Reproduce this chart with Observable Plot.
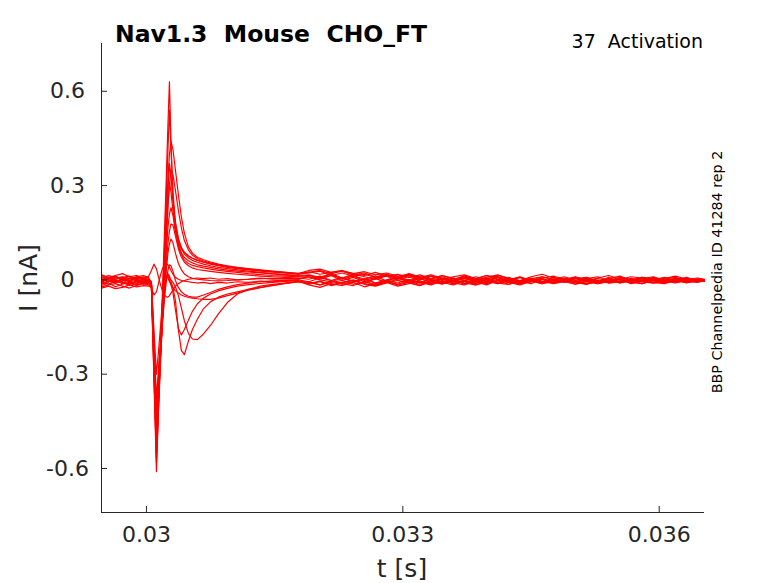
<!DOCTYPE html>
<html><head><meta charset="utf-8">
<script src="https://cdn.jsdelivr.net/npm/d3@7"></script>
<script src="https://cdn.jsdelivr.net/npm/@observablehq/plot@0.6"></script>
<style>body{margin:0;background:#fff}#chart{position:relative;width:778px;height:583px}</style>
</head><body><div id="chart"></div>
<script>
// sample times (s): pre-step, transient, tail
const timeS = [
  0.029474, 0.029556, 0.029637, 0.029719, 0.029801, 0.029883, 0.029965, 0.030023,
  0.030058, 0.030088, 0.030117, 0.030140, 0.030164, 0.030187, 0.030211, 0.030234, 0.030251, 0.030269,
  0.030287, 0.030310, 0.030339, 0.030374, 0.030409, 0.030444, 0.030491, 0.030538, 0.030596, 0.030667,
  0.030749, 0.030842, 0.030947, 0.031064, 0.031193, 0.031333, 0.031474, 0.031626, 0.031778,
  0.03190, 0.03203, 0.03216, 0.03229, 0.03242, 0.03255, 0.03268, 0.03281, 0.03294, 0.03307,
  0.03320, 0.03333, 0.03346, 0.03359, 0.03372, 0.03385, 0.03398, 0.03411, 0.03424, 0.03437,
  0.03450, 0.03463, 0.03476, 0.03489, 0.03502, 0.03515, 0.03528, 0.03541, 0.03554, 0.03567,
  0.03580, 0.03593, 0.03606, 0.03619, 0.03632, 0.03645, 0.03653
];
// current per sweep, pA
const sweep01 = [-8, 4, -2, -12, 6, -4, 2, -6,
  -20, -320, -610, -420, -230, -40, 150, 340, 490, 630, 440, 260, 165, 118, 98, 86, 76, 69, 63, 57, 52, 47, 42, 38, 34, 30, 27, 24, 21,
  24, 30, 20, 28, 16, 22, 10, 18, 8, 16, 4, 12, 0, 10, 16, 4, -4, 10, 2, -8, 4, 10, -2, -6, 8, 0, -8, 4, 12, -2, -6, 8, 0, -8, 4, -2, -4];
const sweep02 = [10, 2, 12, 0, -6, 8, 4, 0,
  -15, -300, -580, -410, -240, -65, 105, 280, 410, 540, 420, 280, 185, 130, 103, 88, 77, 69, 62, 56, 50, 45, 40, 36, 32, 28, 25, 22, 18,
  26, 18, 24, 30, 20, 14, 24, 12, 18, 8, 16, 4, 14, 2, 12, 0, 8, 16, 4, -4, 6, -6, 2, 10, -2, 6, -6, 2, -8, 0, 8, 2, -6, 0, 8, -4, 0];
const sweep03 = [-18, -10, -22, -14, -8, -16, -10, -12,
  -10, -270, -550, -390, -230, -75, 80, 220, 320, 400, 440, 415, 350, 270, 200, 148, 105, 85, 72, 64, 57, 50, 45, 40, 36, 32, 28, 24, 20,
  30, 34, 24, 28, 20, 26, 16, 22, 12, 18, 8, 16, 6, 0, 12, 4, 14, 8, 0, 10, -2, 6, 12, 2, -6, 4, 10, -2, 4, -6, 4, 10, -2, 4, -4, 2, 0];
const sweep04 = [4, -6, 6, 10, -2, 2, -8, -4,
  -25, -300, -570, -420, -270, -125, 25, 170, 280, 370, 330, 250, 180, 130, 100, 82, 70, 62, 56, 50, 45, 40, 36, 32, 28, 24, 20, 17, 14,
  16, 8, 20, 6, 14, 2, 12, -4, 8, 0, -8, 4, 10, -2, 6, -6, 4, -12, 0, 8, -6, 2, -10, 0, 4, -6, -12, -4, 4, -8, 0, 4, -6, 0, -8, -4, 0];
const sweep05 = [-2, 8, 0, -6, -14, -6, 0, 2,
  -5, -260, -520, -380, -240, -110, 20, 140, 230, 300, 350, 335, 285, 220, 165, 125, 95, 78, 68, 60, 54, 48, 42, 38, 34, 30, 26, 22, 18,
  22, 28, 14, 22, 12, 18, 8, 16, 4, 14, 0, 12, 4, -4, 10, 2, 14, 2, -6, 8, -2, 10, 2, -4, 8, -6, 4, -2, 8, 2, -6, 0, 8, -2, -6, 4, 0];
const sweep06 = [14, 6, 2, 8, 12, 4, 10, 6,
  -15, -270, -530, -390, -250, -115, 15, 140, 235, 310, 280, 220, 160, 112, 86, 71, 61, 54, 48, 44, 40, 35, 31, 28, 25, 22, 19, 16, 12,
  14, 6, 18, 2, 12, -2, 8, 16, 4, -4, 10, 0, -8, 6, -2, -10, 4, 10, -4, -8, 2, -10, -2, 6, -8, 4, -2, -10, -6, 4, -2, -8, 4, 8, -4, -6, 0];
const sweep07 = [-12, -4, -8, 2, -4, -10, -2, -8,
  -10, -250, -500, -370, -240, -120, -5, 95, 165, 210, 230, 205, 155, 108, 80, 63, 52, 46, 42, 38, 34, 30, 27, 24, 20, 17, 14, 12, 10,
  10, 2, 14, -2, 8, -6, 4, -8, 2, 10, -4, -12, 4, -6, 8, -2, -12, -2, 8, -8, 2, -4, -12, -6, 4, 8, -4, -8, 4, -10, -2, 4, -8, -2, 4, -6, 0];
const sweep08 = [-26, -20, -28, -24, -16, -22, -18, -20,
  -20, -240, -480, -360, -240, -130, -30, 60, 115, 155, 178, 175, 140, 98, 72, 56, 45, 38, 33, 30, 27, 24, 21, 18, 15, 12, 10, 8, 6,
  2, 12, -2, 8, -6, 4, -10, 0, 10, -6, 6, -10, 2, -4, -12, 4, -4, 8, -8, -4, 4, -8, 8, -2, -10, 2, -6, 8, -8, -2, 4, -8, -2, 4, -4, -6, 0];
const sweep09 = [6, 14, 8, 0, 4, 10, 14, 8,
  -10, -230, -460, -350, -240, -135, -45, 35, 85, 115, 130, 118, 85, 52, 32, 19, 10, 5, 2, 0, -2, -3, -2, 0, 2, 4, 5, 5, 4,
  10, 0, -6, 6, -4, -10, 4, 12, -2, -8, 6, -2, -10, -6, 4, -2, -8, 8, -2, -12, -6, 4, -8, -2, 8, -2, -8, 4, -8, -2, 8, 0, -10, -2, 4, -6, 0];
const sweep10 = [-6, -14, -4, -8, -18, -12, -6, -10,
  -15, -210, -430, -330, -230, -140, -60, 0, 30, 48, 45, 28, -2, -24, -38, -46, -52, -55, -55, -48, -40, -30, -22, -15, -10, -6, -3, -1, 0,
  -6, 6, -2, -14, -6, 2, -10, -2, 8, -6, -14, -2, 4, -10, -2, -6, 4, -10, -14, -2, -6, 4, -10, -2, -6, -14, -6, 0, -10, 4, -2, -10, -6, 0, -10, -2, -4];
const sweep11 = [2, -4, -10, -2, 4, -2, -8, -2,
  -20, -210, -420, -320, -220, -120, -35, 10, 20, 12, -5, -25, -65, -160, -225, -238, -195, -158, -125, -92, -70, -55, -45, -38, -30, -24, -17, -11, -6,
  -12, -4, -16, -8, 0, -12, -18, -6, -14, -2, -10, 2, -8, -16, -4, -12, 2, -8, 6, -4, -12, 2, -8, -4, 6, -4, -12, -4, 2, -8, -4, 6, -4, -10, 0, -6, -2];
const sweep12 = [-14, -6, 0, -8, -12, -4, -14, -10,
  -15, -200, -400, -300, -200, -105, -25, 12, 15, 8, 0, -8, -22, -50, -90, -130, -170, -188, -190, -172, -145, -108, -72, -45, -30, -20, -14, -10, -6,
  -8, -16, -4, -12, -18, -6, -14, -2, -10, 2, -8, -16, -4, -12, -2, -16, -8, 2, -8, -12, -2, -12, 2, -8, -2, -12, -4, 2, -10, -4, -12, -2, 4, -8, -4, 0, -4];
const sweep13 = [8, 0, -6, 4, 10, 0, 6, 2,
  -10, -190, -380, -290, -195, -105, -30, 8, 10, 0, -15, -40, -95, -155, -175, -158, -128, -100, -76, -58, -45, -35, -27, -20, -15, -11, -8, -5, -3,
  -14, -6, -18, -10, -2, -14, -20, -10, -2, -10, -18, -6, -14, -2, -12, -6, -16, -2, -8, -16, -4, -12, -6, 2, -8, -14, -2, -8, 2, -12, -4, -8, -12, -2, -8, 0, -4];
const sweep14 = [-4, 6, 10, 4, -2, 8, 0, -4,
  -10, -160, -300, -230, -150, -70, -15, 8, 5, -5, -15, -25, -35, -42, -48, -52, -56, -58, -60, -62, -62, -58, -50, -42, -33, -25, -18, -11, -6,
  -6, -16, -8, -2, -14, -6, -16, -8, -20, -12, -4, -14, -2, -10, -16, -4, -10, -2, -14, -6, 2, -10, -2, -6, -14, -2, -10, -6, 2, -8, -12, -2, -8, 2, -4, -8, -2];
const sweep15 = [16, 8, 14, 20, 10, 14, 6, 10,
  30, 50, 35, 10, -15, -35, -48, -54, -55, -50, -42, -32, -20, -12, -6, -2, 2, 4, 6, 4, 6, 2, 4, 0, 2, 6, 2, 4, 2,
  10, 4, 14, 6, 18, 10, 2, 14, 6, 20, 10, 2, 14, 6, -2, 10, 2, 14, 6, -2, 10, 18, 6, 2, 10, -2, 6, 14, 2, 10, 6, -2, 4, 12, 2, 6, 2];
const sweep16 = [-22, -16, -12, -20, -26, -18, -12, -16,
  -25, -48, -38, -12, 15, 35, 48, 52, 48, 40, 30, 18, 8, 2, -2, -4, -6, -8, -10, -8, -12, -8, -10, -6, -8, -4, -6, -2, -4,
  -16, -24, -12, -18, -8, -22, -12, -4, -16, -8, -18, -4, -12, -2, -10, -16, -4, -12, -2, -10, -6, 2, -10, -2, -14, -6, -2, -10, -2, 2, -6, -10, -2, -6, -2, -6, -2];

const sweeps = [sweep01, sweep02, sweep03, sweep04, sweep05, sweep06, sweep07, sweep08,
                sweep09, sweep10, sweep11, sweep12, sweep13, sweep14, sweep15, sweep16];
const xTicks = [0.03, 0.033, 0.036];
const yTicks = [-0.6, -0.3, 0, 0.3, 0.6];
const xDomain = [0.029474, 0.03653];
const yDomain = [-0.74, 0.752];
const titleText = "Nav1.3  Mouse  CHO_FT";
const protocolText = "37  Activation";
const sideText = "BBP Channelpedia ID 41284 rep 2";
const xLabel = "t [s]";
const yLabel = "I [nA]";

const rows = sweeps.flatMap((vals, s) => vals.map((v, i) => ({sweep: s, t: timeS[i], pA: v})));

const W = 778, H = 583, mL = 101, mR = 74, mT = 43, mB = 71;
const axisColor = "#262626";
const svg = Plot.plot({
  width: W, height: H,
  marginLeft: mL, marginRight: mR, marginTop: mT, marginBottom: mB,
  style: {fontFamily: "DejaVu Sans", background: "white", color: axisColor, overflow: "visible"},
  x: {domain: xDomain, label: null},
  y: {domain: yDomain, label: null},
  marks: [
    Plot.line(rows, {x: "t", y: d => d.pA / 1000, z: "sweep", stroke: "#ff0000", strokeWidth: 1.2}),
    Plot.ruleX([xDomain[0]], {stroke: axisColor}),
    Plot.ruleY([yDomain[0]], {stroke: axisColor}),
    Plot.tickX(xTicks, {x: d => d, insetTop: (H - mT - mB) - 6, stroke: axisColor}),
    Plot.tickY(yTicks, {y: d => d, insetRight: (W - mL - mR) - 6, stroke: axisColor}),
    Plot.axisX({ticks: xTicks, tickSize: 0, tickPadding: 14, fontSize: 22, tickFormat: d => String(d), label: null}),
    Plot.axisY({ticks: yTicks, tickSize: 0, tickPadding: 34, textAnchor: "middle", fontSize: 22, tickFormat: d => String(d), label: null})
  ]
});
document.getElementById("chart").appendChild(svg);

const s = d3.select(svg);
const addText = (txt, attrs) => {
  const t = s.append("text").text(txt).style("white-space", "pre").attr("font-family", "DejaVu Sans");
  Object.entries(attrs).forEach(([k, v]) => t.attr(k, v));
  return t;
};
addText(titleText, {x: 115, y: 42, "font-size": 23.5, "font-weight": "bold", "text-anchor": "start", fill: "#000"});
addText(protocolText, {x: 703, y: 48, "font-size": 19, "text-anchor": "end", fill: "#000"});
addText(sideText, {transform: "translate(722,272) rotate(-90)", "font-size": 14.3, "text-anchor": "middle", fill: "#000"});
addText(xLabel, {x: 402, y: 577, "font-size": 25, "text-anchor": "middle", fill: axisColor});
addText(yLabel, {transform: "translate(37,278) rotate(-90)", "font-size": 25, "text-anchor": "middle", fill: axisColor});
</script></body></html>
